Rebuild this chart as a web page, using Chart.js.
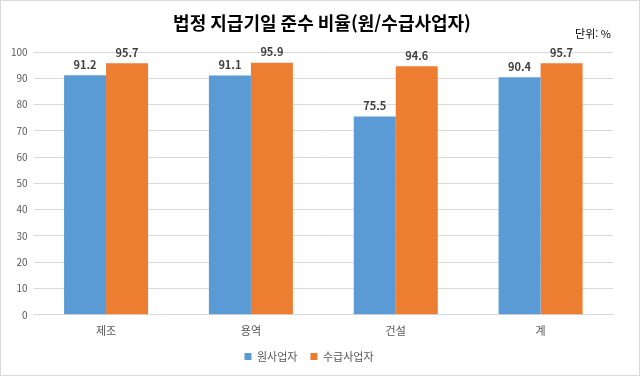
<!DOCTYPE html>
<html lang="ko">
<head>
  <meta charset="UTF-8">
  <title>법정 지급기일 준수 비율</title>
  <script src="https://cdn.jsdelivr.net/npm/chart.js"></script>
  <style>
    body { margin: 0; padding: 0; background: #fff; }
    #wrap { width: 638px; height: 374px; border: 1px solid #d9d9d9; }
  </style>
</head>
<body>
  <div id="wrap"><canvas id="grafico" width="638" height="374"></canvas></div>
  <script>
    const categorias = ['제조', '용역', '건설', '계'];
    const wonsaupja = [91.2, 91.1, 75.5, 90.4];
    const sugeupsaupja = [95.7, 95.9, 94.6, 95.7];
    const fonte = "'Noto Sans CJK KR', 'Noto Sans', sans-serif";

    // rotulos de valor acima das barras + titulo e unidade
    const rotulos = {
      id: 'rotulos',
      afterDatasetsDraw(chart) {
        const ctx = chart.ctx;
        ctx.save();
        ctx.fillStyle = '#404040';
        ctx.font = 'bold 11px ' + fonte;
        ctx.textAlign = 'center';
        ctx.textBaseline = 'bottom';
        chart.data.datasets.forEach((ds, i) => {
          chart.getDatasetMeta(i).data.forEach((bar, j) => {
            ctx.fillText(ds.data[j].toFixed(1), bar.x, bar.y - 5);
          });
        });
        ctx.fillStyle = '#000';
        ctx.font = 'bold 18px ' + fonte;
        ctx.textBaseline = 'middle';
        ctx.fillText('법정 지급기일 준수 비율(원/수급사업자)', 321, 22);
        ctx.font = '11px ' + fonte;
        ctx.textAlign = 'right';
        ctx.fillText('단위: %', 610, 33);
        ctx.restore();
      }
    };

    new Chart(document.getElementById('grafico'), {
      type: 'bar',
      data: {
        labels: categorias,
        datasets: [
          { label: '원사업자', data: wonsaupja, backgroundColor: '#5b9bd5' },
          { label: '수급사업자', data: sugeupsaupja, backgroundColor: '#ed7d31' }
        ]
      },
      options: {
        responsive: false,
        animation: false,
        layout: { padding: { top: 51, right: 26, left: 4, bottom: 3 } },
        datasets: { bar: { categoryPercentage: 0.58, barPercentage: 1 } },
        plugins: {
          legend: {
            position: 'bottom',
            labels: { boxWidth: 7, boxHeight: 7, font: { size: 11, family: fonte }, color: '#595959', padding: 13 }
          },
          tooltip: { enabled: false }
        },
        scales: {
          y: {
            min: 0, max: 100,
            ticks: { stepSize: 10, color: '#595959', font: { size: 10, family: fonte }, padding: 6 },
            grid: { color: '#d9d9d9', drawTicks: false },
            border: { display: false }
          },
          x: {
            ticks: { color: '#595959', font: { size: 11, family: fonte }, padding: 1 },
            grid: { display: false },
            border: { color: '#d9d9d9' }
          }
        }
      },
      plugins: [rotulos]
    });
  </script>
</body>
</html>
